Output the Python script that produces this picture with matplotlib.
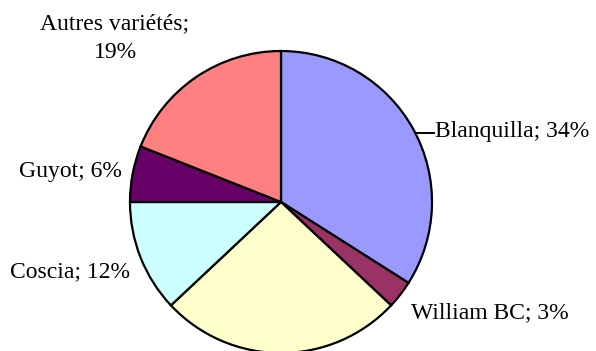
import matplotlib.pyplot as plt

# part de chaque variete (sens horaire depuis midi)
varietes = ['Blanquilla', 'William BC', 'Passe Crassane', 'Coscia', 'Guyot', 'Autres variétés']
parts = [34, 3, 26, 12, 6, 19]
couleurs = ['#9999FF', '#993366', '#FFFFCC', '#CCFFFF', '#660066', '#FF8080']

# positions des etiquettes (en pixels de la figure)
etiquettes = {
    'Blanquilla': (435, 219, 'left', 'Blanquilla; 34%'),
    'William BC': (411, 38, 'left', 'William BC; 3%'),
    'Coscia': (130, 79, 'right', 'Coscia; 12%'),
    'Guyot': (122, 180, 'right', 'Guyot; 6%'),
    'Autres variétés': (115, 313, 'center', 'Autres variétés;\n19%'),
}

plt.rcParams['font.family'] = ['Liberation Serif', 'DejaVu Serif']

fig = plt.figure(figsize=(5.96, 3.51), dpi=100)
ax = fig.add_axes([0, 0, 1, 1])

ax.pie(parts, colors=couleurs, startangle=90, counterclock=False,
       center=(281, 149), radius=151,
       wedgeprops=dict(edgecolor='black', linewidth=1.6))

ax.set_xlim(0, 596)
ax.set_ylim(0, 351)
ax.set_aspect('equal')
ax.axis('off')

for nom, (x, y, ha, txt) in etiquettes.items():
    ax.text(x, y, txt, ha=ha, va='center', fontsize=17, linespacing=1.5)

# petit trait de rappel pour Blanquilla
ax.plot([415, 434], [218, 218], color='black', lw=1.4)

fig.savefig('out.png', dpi=100)
